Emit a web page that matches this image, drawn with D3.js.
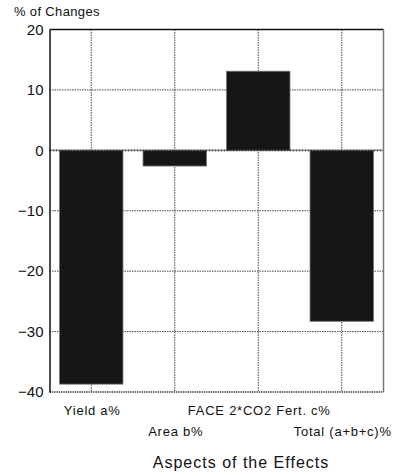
<!DOCTYPE html>
<html>
<head>
<meta charset="utf-8">
<script src="https://cdn.jsdelivr.net/npm/d3@7"></script>
<style>
  html, body { margin: 0; padding: 0; background: #fff; }
  svg { display: block; font-family: "Liberation Sans", Arial, sans-serif; }
</style>
</head>
<body>
<svg id="chart" width="398" height="475"></svg>
<script>
// Components of the change in output (%)
const categories = ["Yield a%", "Area b%", "FACE 2*CO2 Fert. c%", "Total (a+b+c)%"];
const values = [-38.7, -2.6, 13.1, -28.3];
const yTicks = [-40, -30, -20, -10, 0, 10, 20];
const yLabel = "% of Changes";
const xTitle = "Aspects of the Effects";

const svg = d3.select("#chart");
const margin = { left: 49.5, top: 29.5, right: 398 - 383.5, bottom: 475 - 392 };
const W = 398, H = 475;

const x = d3.scaleBand()
  .domain(categories)
  .range([margin.left, W - margin.right])
  .paddingInner(0.24)
  .paddingOuter(0.12);

const y = d3.scaleLinear()
  .domain([-40, 20])
  .range([H - margin.bottom, margin.top]);

const centers = categories.map(c => x(c) + x.bandwidth() / 2);

// dotted grid
const grid = svg.append("g");
grid.selectAll("line.h")
  .data(yTicks.filter(t => t !== 0 && t !== 20 && t !== -40))
  .join("line")
  .attr("x1", margin.left).attr("x2", W - margin.right)
  .attr("y1", d => y(d)).attr("y2", d => y(d))
  .attr("stroke", "#444").attr("stroke-width", 1)
  .attr("stroke-dasharray", "1.5,1");
grid.selectAll("line.v")
  .data(categories)
  .join("line")
  .attr("x1", d => x(d) + x.bandwidth() / 2).attr("x2", d => x(d) + x.bandwidth() / 2)
  .attr("y1", margin.top).attr("y2", H - margin.bottom)
  .attr("stroke", "#444").attr("stroke-width", 1)
  .attr("stroke-dasharray", "1.5,1");

// bars
svg.append("g").selectAll("rect")
  .data(values)
  .join("rect")
  .attr("x", (d, i) => x(categories[i]))
  .attr("width", x.bandwidth())
  .attr("y", d => y(Math.max(0, d)))
  .attr("height", d => Math.abs(y(d) - y(0)))
  .attr("fill", "#161616")
  .attr("stroke", "#777").attr("stroke-width", 0.8);

// zero line
svg.append("line")
  .attr("x1", margin.left).attr("x2", W - margin.right)
  .attr("y1", y(0)).attr("y2", y(0))
  .attr("stroke", "#333").attr("stroke-width", 1.6)
  .attr("stroke-dasharray", "2,1");

// frame
const frame = svg.append("g").attr("fill", "none");
frame.append("line")
  .attr("x1", margin.left).attr("x2", W - margin.right)
  .attr("y1", margin.top).attr("y2", margin.top)
  .attr("stroke", "#111").attr("stroke-width", 1.5);
frame.append("line")
  .attr("x1", W - margin.right).attr("x2", W - margin.right)
  .attr("y1", margin.top).attr("y2", H - margin.bottom)
  .attr("stroke", "#777").attr("stroke-width", 1.5);
frame.append("line")
  .attr("x1", margin.left).attr("x2", W - margin.right)
  .attr("y1", H - margin.bottom).attr("y2", H - margin.bottom)
  .attr("stroke", "#444").attr("stroke-width", 1.3)
  .attr("stroke-dasharray", "1.5,0.8");

// y axis
const yAxis = d3.axisLeft(y)
  .tickValues(yTicks)
  .tickSize(0)
  .tickPadding(6)
  .tickFormat(d => d < 0 ? "\u2212" + Math.abs(d) : String(d));
const ya = svg.append("g")
  .attr("transform", `translate(${margin.left},0)`)
  .call(yAxis);
ya.select(".domain").attr("stroke", "#111").attr("stroke-width", 1.5);
ya.selectAll("text").attr("font-size", 15).attr("fill", "#111")
  .attr("font-family", "\"Liberation Sans\", Arial, sans-serif");

// category labels, staggered on two rows
svg.append("g").selectAll("text")
  .data(categories)
  .join("text")
  .attr("x", (d, i) => centers[i] + 1)
  .attr("y", (d, i) => i % 2 === 0 ? 415 : 435.5)
  .attr("text-anchor", "middle")
  .attr("font-size", 13)
  .attr("letter-spacing", 0.75)
  .attr("fill", "#111")
  .text(d => d);

svg.append("text")
  .attr("x", 14).attr("y", 16)
  .attr("font-size", 13).attr("letter-spacing", 0.35).attr("fill", "#111")
  .text(yLabel);

svg.append("text")
  .attr("x", 241).attr("y", 468)
  .attr("text-anchor", "middle")
  .attr("font-size", 16).attr("letter-spacing", 1).attr("fill", "#111")
  .text(xTitle);
</script>
</body>
</html>
